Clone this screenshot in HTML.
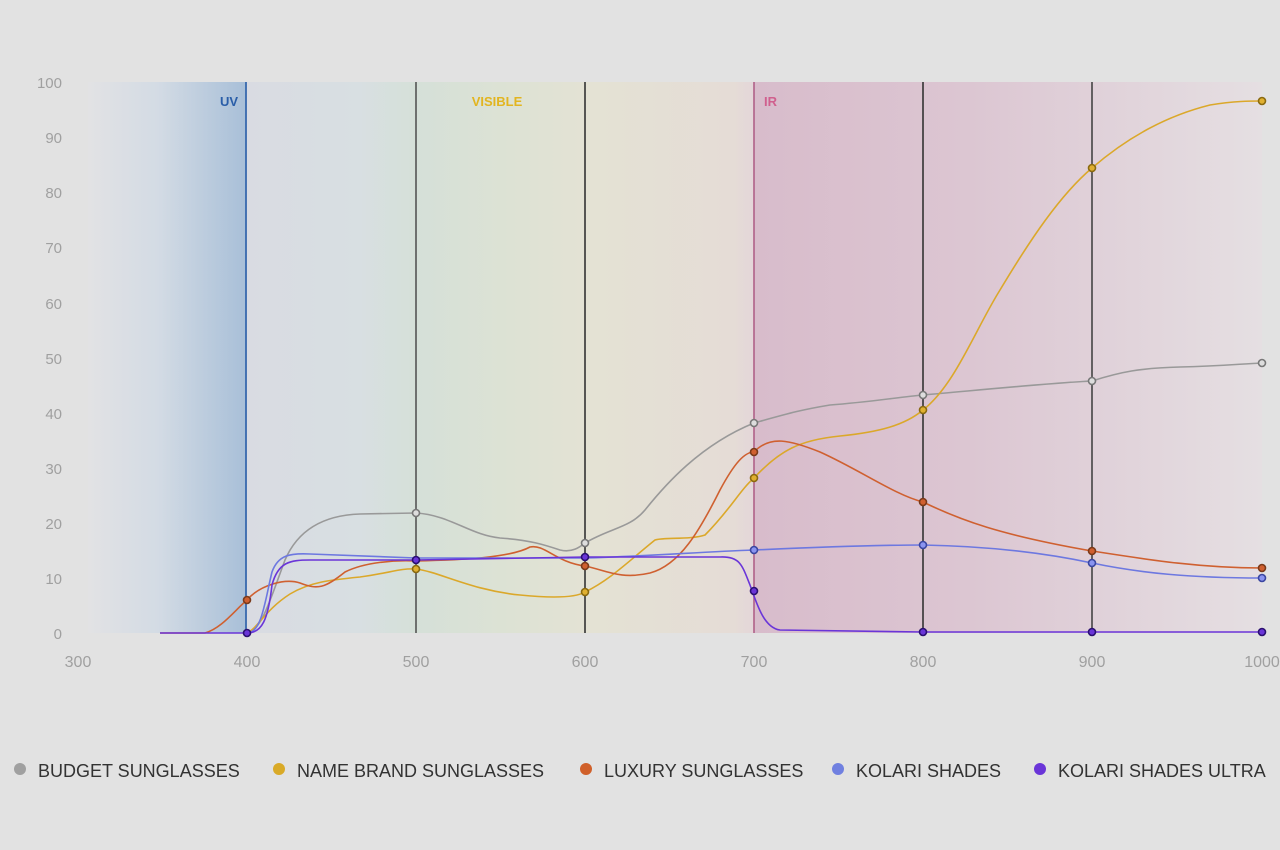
<!DOCTYPE html>
<html><head><meta charset="utf-8"><style>
html,body{margin:0;padding:0;background:#e2e2e2;}
svg{display:block;font-family:"Liberation Sans",sans-serif;}
</style></head><body>
<svg width="1280" height="850" viewBox="0 0 1280 850" xmlns="http://www.w3.org/2000/svg">
<defs>
<linearGradient id="bg" gradientUnits="userSpaceOnUse" x1="88" y1="0" x2="1262" y2="0">
<stop offset="0" stop-color="#e2e2e4"/>
<stop offset="0.06" stop-color="#d3dbe4"/>
<stop offset="0.135" stop-color="#a8bfd8"/>
<stop offset="0.1355" stop-color="#d9dbe2"/>
<stop offset="0.23" stop-color="#d8dfe2"/>
<stop offset="0.28" stop-color="#d5e0d8"/>
<stop offset="0.36" stop-color="#dde2d4"/>
<stop offset="0.43" stop-color="#e4e2d4"/>
<stop offset="0.55" stop-color="#e5dcd6"/>
<stop offset="0.567" stop-color="#e4d6d9"/>
<stop offset="0.568" stop-color="#d8bccb"/>
<stop offset="0.75" stop-color="#dcc6d2"/>
<stop offset="1" stop-color="#e5dfe2"/>
</linearGradient>
</defs>
<rect x="0" y="0" width="1280" height="850" fill="#e2e2e2"/>
<rect x="88" y="82" width="1174" height="551" fill="url(#bg)"/>
<g fill="#a0a0a0" font-size="15" text-anchor="end">
<text x="62" y="88">100</text><text x="62" y="143">90</text><text x="62" y="198">80</text><text x="62" y="253">70</text><text x="62" y="309">60</text><text x="62" y="364">50</text><text x="62" y="419">40</text><text x="62" y="474">30</text><text x="62" y="529">20</text><text x="62" y="584">10</text><text x="62" y="639">0</text>
</g>
<g fill="#a0a0a0" font-size="16" text-anchor="middle">
<text x="78" y="667">300</text><text x="247" y="667">400</text><text x="416" y="667">500</text><text x="585" y="667">600</text><text x="754" y="667">700</text><text x="923" y="667">800</text><text x="1092" y="667">900</text><text x="1262" y="667">1000</text>
</g>
<g stroke-width="1.6">
<line x1="246" y1="82" x2="246" y2="633" stroke="#2a5ea8"/>
<line x1="416" y1="82" x2="416" y2="633" stroke="#555"/>
<line x1="585" y1="82" x2="585" y2="633" stroke="#333"/>
<line x1="754" y1="82" x2="754" y2="633" stroke="#b06088"/>
<line x1="923" y1="82" x2="923" y2="633" stroke="#333"/>
<line x1="1092" y1="82" x2="1092" y2="633" stroke="#444"/>
</g>
<text x="238" y="106" fill="#2a5ea8" font-size="13" font-weight="bold" text-anchor="end">UV</text>
<text x="497" y="106" fill="#e2b520" font-size="13" font-weight="bold" text-anchor="middle">VISIBLE</text>
<text x="764" y="106" fill="#d0608e" font-size="13" font-weight="bold">IR</text>
<g fill="none" stroke-width="1.6">
<path stroke="#999" d="M247,633 C262,630 270,600 285,560 C300,525 330,515 360,514 L416,513 C450,515 470,535 500,538 C530,540 545,545 560,550 C572,553 580,547 585,543 C610,528 630,528 645,510 C665,485 700,445 754,423 C790,413 800,410 830,405 C870,402 900,397 923,395 C980,390 1050,383 1092,381 C1120,372 1140,368 1180,367 C1220,366 1240,364 1262,363"/>
<path stroke="#dba82a" d="M247,633 C258,628 265,610 290,594 C310,582 330,580 360,577 C390,573 400,568 416,569 C440,572 470,590 520,595 C550,598 575,598 585,592 C610,580 630,560 655,540 C665,537 690,540 705,535 C730,510 740,490 754,478 C780,450 800,440 840,436 C880,432 905,425 923,410 C955,385 975,330 1000,290 C1030,240 1060,195 1092,168 C1130,135 1170,115 1210,105 C1235,101 1250,101 1262,101"/>
<path stroke="#cf6030" d="M160,633 L205,633 C222,628 235,610 247,600 C260,585 285,578 300,583 C318,590 325,588 345,572 C365,562 395,560 416,561 C460,560 510,558 530,547 C545,544 555,562 585,566 C605,570 620,580 650,573 C680,565 700,530 720,490 C735,462 745,452 754,452 C770,435 790,440 820,452 C860,470 895,495 923,502 C960,520 1000,535 1092,551 C1150,560 1200,568 1262,568"/>
<path stroke="#6d78e0" d="M247,633 C262,633 265,600 272,572 C278,555 290,553 310,554 L416,558 L585,558 C650,556 700,552 754,550 C820,547 880,545 923,545 C980,546 1040,552 1092,563 C1140,573 1190,578 1262,578"/>
<path stroke="#6a35d8" d="M160,633 L247,633 C262,633 268,620 272,585 C278,562 290,560 310,560 L416,560 L585,557 L720,557 C740,556 742,565 750,585 C758,608 765,628 780,630 L923,632 L1262,632"/>
</g>
<g stroke-width="1.6">
<g fill="#ddd" stroke="#777"><circle cx="416" cy="513" r="3.5"/><circle cx="585" cy="543" r="3.5"/><circle cx="754" cy="423" r="3.5"/><circle cx="923" cy="395" r="3.5"/><circle cx="1092" cy="381" r="3.5"/><circle cx="1262" cy="363" r="3.5"/></g>
<g fill="#e0b030" stroke="#8a6a10"><circle cx="416" cy="569" r="3.5"/><circle cx="585" cy="592" r="3.5"/><circle cx="754" cy="478" r="3.5"/><circle cx="923" cy="410" r="3.5"/><circle cx="1092" cy="168" r="3.5"/><circle cx="1262" cy="101" r="3.5"/></g>
<g fill="#d06030" stroke="#7a3a1a"><circle cx="247" cy="600" r="3.5"/><circle cx="585" cy="566" r="3.5"/><circle cx="754" cy="452" r="3.5"/><circle cx="923" cy="502" r="3.5"/><circle cx="1092" cy="551" r="3.5"/><circle cx="1262" cy="568" r="3.5"/></g>
<g fill="#8a94f0" stroke="#3a46a0"><circle cx="754" cy="550" r="3.5"/><circle cx="923" cy="545" r="3.5"/><circle cx="1092" cy="563" r="3.5"/><circle cx="1262" cy="578" r="3.5"/></g>
<g fill="#6a35d8" stroke="#2a1070"><circle cx="247" cy="633" r="3.5"/><circle cx="416" cy="560" r="3.5"/><circle cx="585" cy="557" r="3.5"/><circle cx="754" cy="591" r="3.5"/><circle cx="923" cy="632" r="3.5"/><circle cx="1092" cy="632" r="3.5"/><circle cx="1262" cy="632" r="3.5"/></g>
</g>
<g font-size="18" fill="#333">
<circle cx="20" cy="769" r="6" fill="#a0a0a0"/><text x="38" y="777">BUDGET SUNGLASSES</text>
<circle cx="279" cy="769" r="6" fill="#d9aa28"/><text x="297" y="777">NAME BRAND SUNGLASSES</text>
<circle cx="586" cy="769" r="6" fill="#d0602a"/><text x="604" y="777">LUXURY SUNGLASSES</text>
<circle cx="838" cy="769" r="6" fill="#7080e0"/><text x="856" y="777">KOLARI SHADES</text>
<circle cx="1040" cy="769" r="6" fill="#6a35d8"/><text x="1058" y="777">KOLARI SHADES ULTRA</text>
</g>
</svg>
</body></html>
